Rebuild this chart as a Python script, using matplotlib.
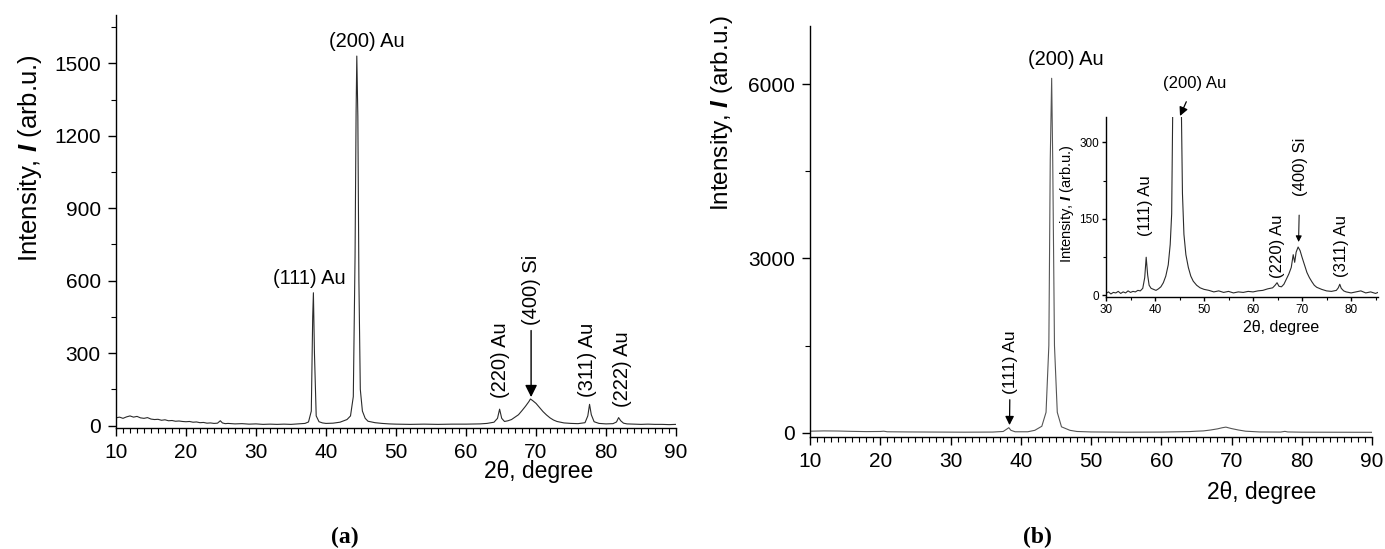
import matplotlib
matplotlib.use("Agg")
import matplotlib.pyplot as plt
from matplotlib.ticker import MultipleLocator

plt.rcParams['font.family'] = 'Liberation Sans'
plt.rcParams['mathtext.fontset'] = 'custom'
plt.rcParams['mathtext.rm'] = 'Liberation Sans'
plt.rcParams['mathtext.it'] = 'Liberation Sans:italic'
plt.rcParams['mathtext.bf'] = 'Liberation Sans:bold:italic'

# ---- panel (a): 2theta / intensity
a_theta = [10, 10.5, 11, 11.5, 12, 12.5, 13, 13.5, 14, 14.5, 15, 15.5, 16, 16.5, 17, 17.5,
           18, 18.5, 19, 19.5, 20, 20.5, 21, 21.5, 22, 22.5, 23, 23.5, 24, 24.5, 24.9, 25.2,
           25.6, 26, 27, 28, 29, 30, 31, 32, 33, 34, 35, 36, 37, 37.5, 37.9, 38.1, 38.2,
           38.35, 38.6, 39, 39.5, 40, 41, 42, 43, 43.5, 43.9, 44.15, 44.3, 44.4, 44.55,
           44.7, 44.9, 45.2, 45.6, 46, 47, 48, 49, 50, 52, 54, 56, 58, 60, 62, 63, 64, 64.5,
           64.8, 65.1, 65.5, 66, 66.5, 67, 67.5, 68, 68.5, 69, 69.2, 69.5, 70, 70.5, 71,
           71.5, 72, 72.5, 73, 74, 75, 76, 77, 77.4, 77.65, 77.9, 78.3, 79, 80, 81, 81.5,
           81.8, 82.1, 82.5, 83, 84, 85, 86, 87, 88, 89, 90]
a_int = [32, 35, 30, 36, 40, 35, 38, 32, 30, 33, 27, 25, 26, 22, 24, 20,
         21, 18, 19, 17, 16, 17, 14, 15, 12, 13, 10, 11, 9, 10, 20, 11,
         8, 9, 7, 8, 6, 7, 5, 6, 5, 6, 5, 7, 9, 15, 60, 450, 550,
         300, 40, 16, 11, 9, 10, 14, 25, 40, 120, 700, 1300, 1530, 1280,
         600, 150, 60, 30, 18, 12, 9, 7, 6, 5, 6, 5, 6, 6, 7, 9, 14, 30,
         68, 30, 17, 20, 25, 35, 45, 62, 80, 100, 110, 104, 92, 75, 58,
         44, 32, 23, 17, 11, 9, 8, 12, 40, 88, 45, 16, 9, 7, 8, 15,
         33, 20, 10, 7, 6, 5, 6, 5, 5, 4, 5]

# ---- panel (b) main curve
b_theta = [10, 12, 14, 16, 18, 20, 20.5, 21, 24, 28, 32, 36, 37.5, 38.0, 38.3, 38.6, 39.2,
           41, 42, 43, 43.6, 44.0, 44.2, 44.4, 44.55, 44.8, 45.2, 45.8, 47, 48, 50, 55, 60,
           64, 65, 66, 67, 68, 68.7, 69.2, 70, 71, 72, 74, 77, 77.6, 78, 80, 85, 90]
b_int = [25, 30, 28, 22, 18, 20, 25, 15, 12, 10, 8, 10, 20, 60, 85, 40, 15,
         15, 40, 110, 350, 1500, 4700, 6100, 4700, 1500, 350, 100, 40, 20, 12, 8, 10,
         18, 25, 30, 45, 65, 85, 95, 70, 45, 25, 12, 10, 22, 12, 8, 7, 6]

# ---- panel (b) inset (zoom of the same scan)
c_theta = [30, 30.5, 31, 31.5, 32, 32.5, 33, 33.5, 34, 34.5, 35, 35.5, 36, 36.5, 37, 37.5,
           37.9, 38.2, 38.5, 38.8, 39.2, 39.7, 40.2, 40.7, 41.2, 41.7, 42.2, 42.7, 43.1,
           43.4, 43.6, 44.4, 45.4, 45.6, 45.9, 46.3, 46.8, 47.3, 47.8, 48.5, 49.2, 50, 51,
           52, 53, 54, 55, 56, 57, 58, 59, 60, 61, 62, 63, 64, 64.5, 64.9, 65.3, 65.8, 66.3,
           66.8, 67.3, 67.8, 68.2, 68.5, 68.8, 69.2, 69.6, 70, 70.5, 71, 71.5, 72, 72.5, 73,
           74, 75, 76, 77, 77.4, 77.7, 78, 78.5, 79, 80, 81, 82, 83, 84, 85, 85.5]
c_int = [4, 7, 3, 6, 5, 8, 4, 7, 5, 9, 6, 8, 7, 10, 9, 14,
         35, 75, 40, 20, 14, 12, 10, 13, 17, 25, 38, 60, 100,
         160, 350, 6100, 350, 200, 120, 80, 55, 38, 28, 20, 15, 12, 10,
         7, 9, 6, 8, 5, 7, 6, 8, 7, 9, 10, 13, 15, 20, 25, 18, 17, 22,
         32, 42, 55, 80, 65, 85, 95, 88, 75, 60, 45, 35, 27, 20, 16,
         12, 9, 8, 10, 15, 22, 14, 9, 7, 5, 7, 9, 5, 7, 4, 6]

W, H = 1385, 549
fig = plt.figure(figsize=(W / 100, H / 100), dpi=100)


def px_axes(x0, y0, x1, y1):
    # pixel box (left, top, right, bottom) -> figure fraction
    return fig.add_axes([x0 / W, 1 - y1 / H, (x1 - x0) / W, (y1 - y0) / H])


def style(ax, fs, major, minor):
    for s in ['top', 'right']:
        ax.spines[s].set_visible(False)
    for s in ['left', 'bottom']:
        ax.spines[s].set_linewidth(1.0)
    ax.tick_params(which='major', direction='out', length=major, width=1.0,
                   labelsize=fs, pad=5)
    ax.tick_params(which='minor', direction='out', length=minor, width=0.8)


line_col = '#2b2b2b'

# (a)
ax1 = px_axes(116, 15, 676, 428)
ax1.plot(a_theta, a_int, color=line_col, lw=0.8)
ax1.set_xlim(10, 90)
ax1.set_ylim(-10, 1700)
ax1.xaxis.set_major_locator(MultipleLocator(10))
ax1.xaxis.set_minor_locator(MultipleLocator(1))
ax1.yaxis.set_major_locator(MultipleLocator(300))
ax1.yaxis.set_minor_locator(MultipleLocator(150))
style(ax1, 15, 6, 3.5)
ax1.set_xlabel('2θ, degree', fontsize=16.5)
ax1.xaxis.set_label_coords(0.754, -0.106)
ax1.xaxis.label.set_va('center')
ax1.set_ylabel(r'Intensity, $\mathbf{I}$ (arb.u.)', fontsize=18.5)
ax1.yaxis.set_label_coords(-0.154, 0.654)
ax1.yaxis.label.set_va('center')

ann = dict(fontsize=14.5, ha='center', va='center')
ax1.text(45.9, 1590, '(200) Au', **ann)
ax1.text(37.6, 611, '(111) Au', **ann)
ax1.text(64.9, 272, '(220) Au', rotation=90, **ann)
ax1.text(77.4, 272, '(311) Au', rotation=90, **ann)
ax1.text(82.3, 234, '(222) Au', rotation=90, **ann)
ax1.annotate('(400) Si', xy=(69.3, 118), xytext=(69.3, 562), rotation=90, fontsize=14.5,
             ha='center', va='center',
             arrowprops=dict(arrowstyle='-|>', color='black', lw=1.0, mutation_scale=18,
                             shrinkA=2, shrinkB=0))

# (b)
ax2 = px_axes(810, 26, 1372, 437)
ax2.plot(b_theta, b_int, color='#555555', lw=0.8)
ax2.set_xlim(10, 90)
ax2.set_ylim(-75, 7000)
ax2.xaxis.set_major_locator(MultipleLocator(10))
ax2.xaxis.set_minor_locator(MultipleLocator(1))
ax2.yaxis.set_major_locator(MultipleLocator(3000))
ax2.yaxis.set_minor_locator(MultipleLocator(1500))
style(ax2, 15, 6, 3.5)
ax2.set_xlabel('2θ, degree', fontsize=16.5)
ax2.xaxis.set_label_coords(0.804, -0.134)
ax2.xaxis.label.set_va('center')
ax2.set_ylabel(r'Intensity, $\mathbf{I}$ (arb.u.)', fontsize=17.5)
ax2.yaxis.set_label_coords(-0.157, 0.788)
ax2.yaxis.label.set_va('center')
ax2.text(46.4, 6430, '(200) Au', **ann)
ax2.annotate('(111) Au', xy=(38.4, 130), xytext=(38.5, 1210), rotation=90, fontsize=12.5,
             ha='center', va='center',
             arrowprops=dict(arrowstyle='-|>', color='black', lw=0.9, mutation_scale=13,
                             shrinkA=2, shrinkB=0))

# inset
ax3 = px_axes(1106, 117, 1378, 297)
ax3.plot(c_theta, c_int, color=line_col, lw=0.8)
ax3.set_xlim(30, 85.5)
ax3.set_ylim(-3, 350)
ax3.xaxis.set_major_locator(MultipleLocator(10))
ax3.xaxis.set_minor_locator(MultipleLocator(5))
ax3.yaxis.set_major_locator(MultipleLocator(150))
ax3.yaxis.set_minor_locator(MultipleLocator(75))
style(ax3, 8.5, 3, 2)
ax3.tick_params(which='major', pad=2)
ax3.set_xlabel('2θ, degree', fontsize=11.5)
ax3.xaxis.set_label_coords(0.643, -0.172)
ax3.xaxis.label.set_va('center')
ax3.set_ylabel(r'Intensity, $\mathbf{I}$ (arb.u.)', fontsize=10.5)
ax3.yaxis.set_label_coords(-0.145, 0.52)
ax3.yaxis.label.set_va('center')

ins = dict(fontsize=12, ha='center', va='center', rotation=90)
ax3.text(38.0, 177, '(111) Au', **ins)
ax3.text(64.9, 97, '(220) Au', **ins)
ax3.text(78.0, 97, '(311) Au', **ins)
ax3.annotate('(400) Si', xy=(69.3, 105), xytext=(69.6, 253), annotation_clip=False,
             arrowprops=dict(arrowstyle='-|>', color='black', lw=0.7, mutation_scale=9,
                             shrinkA=12, shrinkB=0), **ins)
ax3.annotate('(200) Au', xy=(45.1, 352), xytext=(48.0, 415), fontsize=12,
             ha='center', va='center', annotation_clip=False,
             arrowprops=dict(arrowstyle='-|>', color='black', lw=0.9, mutation_scale=13,
                             shrinkA=6, shrinkB=0))

fig.text(345 / W, 1 - 537 / H, '(a)', family='Liberation Serif', fontweight='bold',
         fontsize=17, ha='center', va='center')
fig.text(1037 / W, 1 - 537 / H, '(b)', family='Liberation Serif', fontweight='bold',
         fontsize=17, ha='center', va='center')

fig.savefig('out.png', dpi=100)
